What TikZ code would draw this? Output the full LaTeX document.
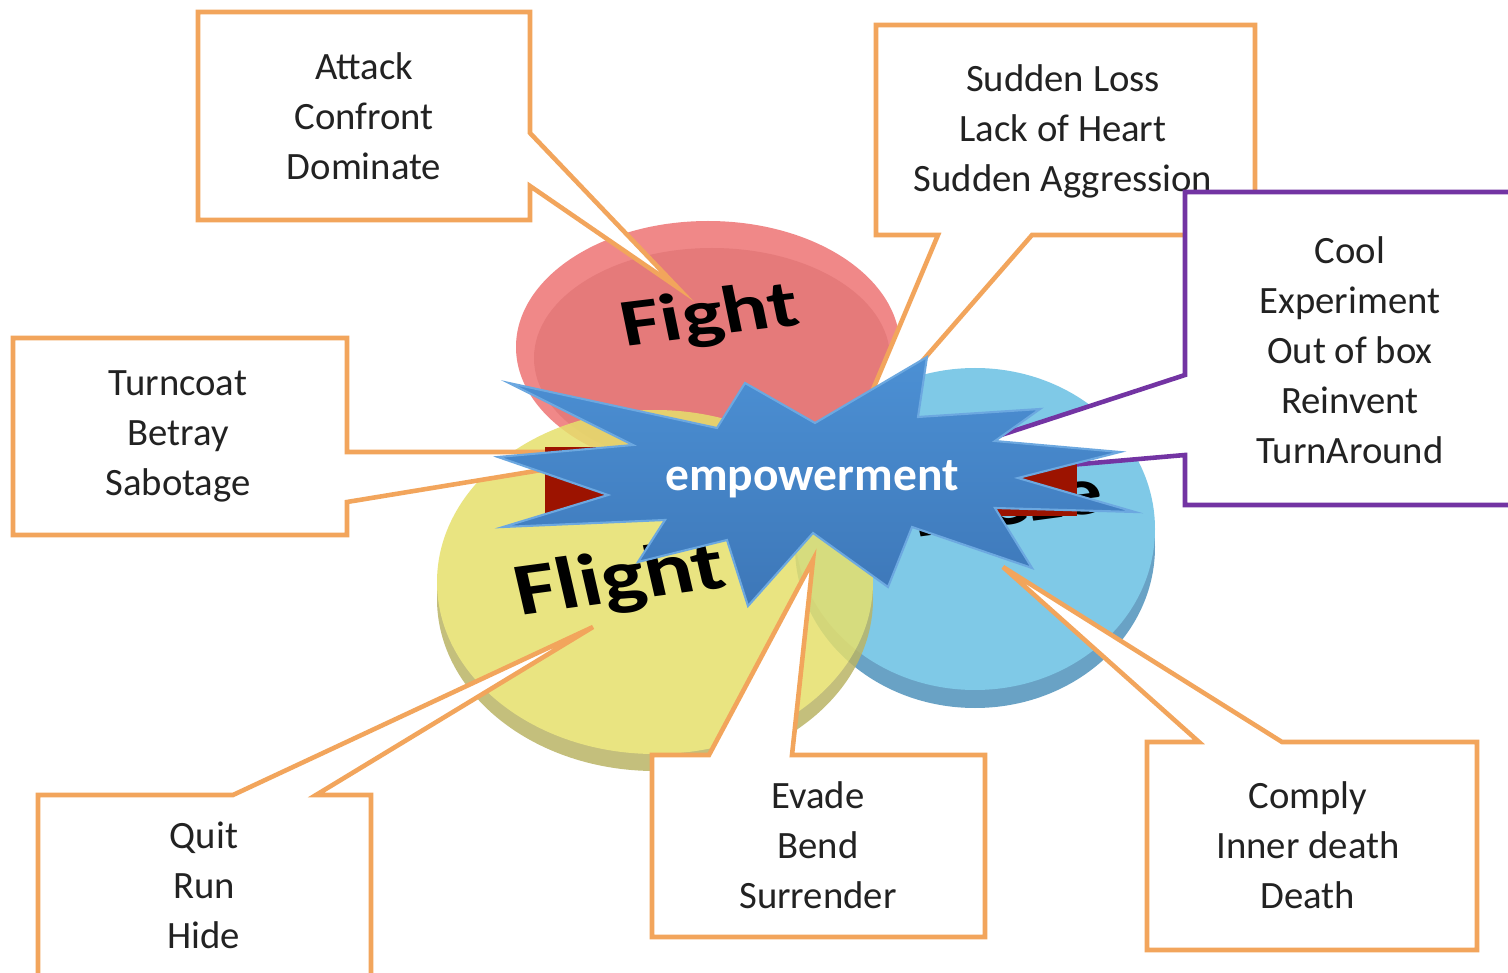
\documentclass[tikz,border=0pt]{standalone}
\usepackage{fontspec}
\setmainfont{Carlito}
\definecolor{boxorange}{HTML}{F2A55C}
\definecolor{boxpurple}{HTML}{7334A3}
\definecolor{fightred}{HTML}{F08888}
\definecolor{fightdark}{HTML}{E57A7A}
\definecolor{flightyellow}{HTML}{E6E06C}
\definecolor{flightrim}{HTML}{BAB466}
\definecolor{freezeblue}{HTML}{6EC2E4}
\definecolor{freezerim}{HTML}{5596BE}
\definecolor{bannerred}{HTML}{9C1300}
\definecolor{starblue}{HTML}{4C90D4}
\definecolor{stardark}{HTML}{3D77B8}
\definecolor{starline}{HTML}{6CA8E0}
\definecolor{textgray}{HTML}{222222}
\tikzset{
  callout/.style={draw=boxorange, line width=1.3pt, fill=white, line join=miter},
  itemlist/.style={align=center, text=textgray, font=\fontsize{11}{14.2}\selectfont},
  disclabel/.style={font=\bfseries\fontsize{19}{23}\selectfont, text=black, xscale=1.3},
}
\begin{document}
\begin{tikzpicture}[x=0.01cm, y=-0.01cm]
\clip (0,0) rectangle (1508,973);
\fill[white] (0,0) rectangle (1508,973);
% the three discs
\fill[fightred] (708,347) ellipse [x radius=192, y radius=126];
\fill[fightdark] (712,358) ellipse [x radius=178, y radius=110];
\node[disclabel, rotate=9] (fightlabel) at (710,318) {Fight};
\begin{scope}[transparency group, opacity=0.88]
\fill[freezerim] (975,547) ellipse [x radius=180, y radius=161];
\fill[freezeblue] (975,529) ellipse [x radius=180, y radius=161];
\end{scope}
\node[disclabel, rotate=10] (freezelabel) at (987,506) {Freeze};
\begin{scope}[transparency group, opacity=0.85]
\fill[flightrim] (655,599) ellipse [x radius=218, y radius=172];
\fill[flightyellow] (655,582) ellipse [x radius=218, y radius=172];
\end{scope}
\node[disclabel, rotate=10, font=\bfseries\fontsize{21}{25}\selectfont, xscale=0.96] (flightlabel) at (620,582) {Flight};
% pointer tips
\coordinate (fighttip) at (677,287);
\coordinate (suddentip) at (850,444);
\coordinate (cooltip) at (851,484);
\coordinate (turntip) at (651,452);
\coordinate (quittip) at (593,627);
\coordinate (evadetip) at (813,560);
\coordinate (complytip) at (1003,567);
% callouts
\draw[callout] (198,12) -- (530,12) -- (530,133) -- (fighttip) -- (530,186) -- (530,220) -- (198,220) -- cycle;
\node[itemlist] (fightlist) at (364,116) {Attack\\Confront\\Dominate};
\draw[callout] (876,25) -- (1255,25) -- (1255,235) -- (1032,235) -- (suddentip) -- (938,235) -- (876,235) -- cycle;
\node[itemlist] (suddenlist) at (1063,131) {Sudden Loss\\Lack of Heart\\Sudden Aggression};
\draw[callout, draw=boxpurple] (1185,192) -- (1515,192) -- (1515,505) -- (1185,505) -- (1185,455) -- (cooltip) -- (1185,375) -- cycle;
\node[itemlist] (coollist) at (1350,350) {Cool\\Experiment\\Out of box\\Reinvent\\TurnAround};
\draw[callout] (13,338) -- (347,338) -- (347,452) -- (turntip) -- (347,502) -- (347,535) -- (13,535) -- cycle;
\node[itemlist] (turnlist) at (178,436) {Turncoat\\Betray\\Sabotage};
\draw[callout] (38,795) -- (233,795) -- (quittip) -- (316,795) -- (371,795) -- (371,990) -- (38,990) -- cycle;
\node[itemlist] (quitlist) at (204,885) {Quit\\Run\\Hide};
\draw[callout] (652,755) -- (709,755) -- (evadetip) -- (792,755) -- (985,755) -- (985,937) -- (652,937) -- cycle;
\node[itemlist] (evadelist) at (818,845) {Evade\\Bend\\Surrender};
\draw[callout] (1147,742) -- (1199,742) -- (complytip) -- (1282,742) -- (1477,742) -- (1477,950) -- (1147,950) -- cycle;
\node[itemlist] (complylist) at (1308,845) {Comply\\Inner death\\Death};
% banner and star
\fill[bannerred] (545,447) rectangle (1077,516);
\draw[starline, line width=0.6pt, top color=starblue, bottom color=stardark]
  (509,383) -- (717,428) -- (745,383) -- (815,423) -- (927,357) -- (918,417)
  -- (1040,409) -- (995,441) -- (1120,452) -- (1018,478) -- (1135,512) -- (995,508)
  -- (1032,568) -- (912,527) -- (888,587) -- (813,533) -- (748,606) -- (727,540)
  -- (638,562) -- (665,520) -- (503,527) -- (608,495) -- (498,457) -- (633,445) -- cycle;
\node[font=\bfseries\fontsize{13.5}{16}\selectfont, text=white] (empower) at (812,479) {empowerment};
\end{tikzpicture}
\end{document}
